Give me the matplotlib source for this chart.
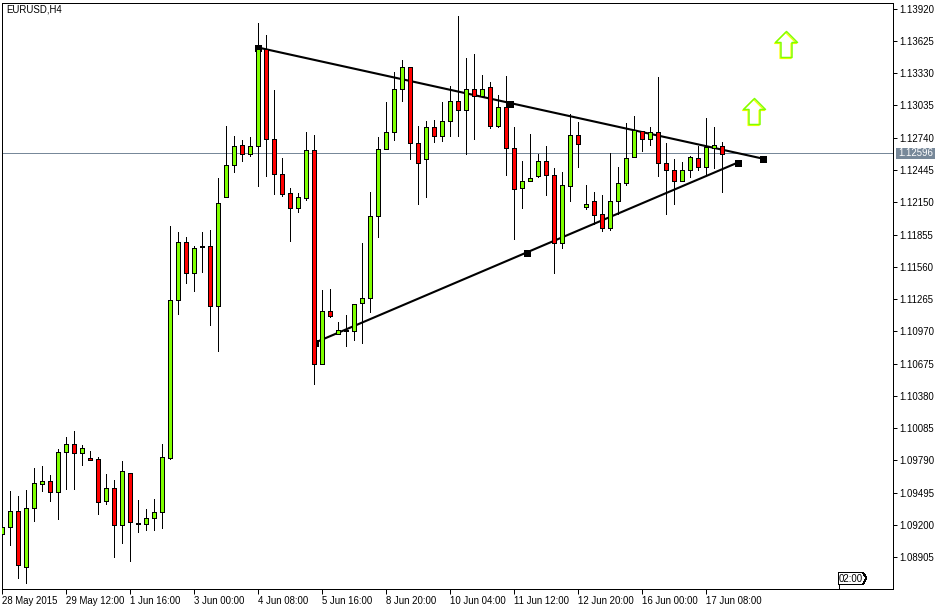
import matplotlib
matplotlib.use("Agg")
import matplotlib.pyplot as plt
from matplotlib.path import Path
from matplotlib.patches import Polygon
from matplotlib.transforms import Affine2D, offset_copy

W = 946
H = 609

opens = [1.09117, 1.09183, 1.09329, 1.08817, 1.09356, 1.09576, 1.09603, 1.09503, 1.09868, 1.09941,
         1.09859, 1.09813, 1.09804, 1.09420, 1.09539, 1.09201, 1.09676, 1.09210, 1.09210, 1.09265,
         1.09320, 1.09813, 1.11258, 1.11788, 1.11504, 1.11751, 1.11751, 1.11203, 1.12199, 1.12491,
         1.12674, 1.12592, 1.12665, 1.13552, 1.12729, 1.12409, 1.12236, 1.12095, 1.12190, 1.12629,
         1.10673, 1.11157, 1.10947, 1.10986, 1.10974, 1.11230, 1.11276, 1.12025, 1.12638, 1.12793,
         1.13186, 1.13387, 1.12692, 1.12546, 1.12839, 1.12756, 1.12894, 1.13076, 1.12994, 1.13186,
         1.13122, 1.13204, 1.12848, 1.13022, 1.12647, 1.12281, 1.12345, 1.12391, 1.12528, 1.12400,
         1.11781, 1.12299, 1.12766, 1.12108, 1.12162, 1.12044, 1.11916, 1.12162, 1.12327, 1.12565,
         1.12805, 1.12729, 1.12793, 1.12510, 1.12446, 1.12345, 1.12446, 1.12555, 1.12473, 1.12647,
         1.12665]
highs = [1.09240, 1.09508, 1.09469, 1.09524, 1.09725, 1.09743, 1.09661, 1.09898, 1.10008, 1.10063,
         1.09932, 1.09877, 1.09823, 1.09670, 1.09615, 1.09789, 1.09676, 1.09432, 1.09350, 1.09441,
         1.09944, 1.11937, 1.11882, 1.11836, 1.11751, 1.11882, 1.11900, 1.12375, 1.12851, 1.12759,
         1.12723, 1.12750, 1.13792, 1.13682, 1.13180, 1.12558, 1.12284, 1.12236, 1.12796, 1.12768,
         1.11352, 1.11361, 1.11059, 1.11123, 1.11221, 1.11781, 1.12247, 1.12750, 1.13070, 1.13344,
         1.13451, 1.13387, 1.12851, 1.12896, 1.12905, 1.13070, 1.13216, 1.13856, 1.13472, 1.13509,
         1.13317, 1.13253, 1.13134, 1.13308, 1.12841, 1.12531, 1.12777, 1.12595, 1.12668, 1.12467,
         1.12430, 1.12960, 1.12887, 1.12309, 1.12247, 1.12220, 1.12604, 1.12476, 1.12878, 1.12942,
         1.12805, 1.12841, 1.13298, 1.12695, 1.12549, 1.12522, 1.12576, 1.12668, 1.12924, 1.12841,
         1.12704]
lows = [1.09085, 1.09015, 1.08713, 1.08667, 1.09234, 1.09508, 1.09417, 1.09252, 1.09533, 1.09533,
        1.09746, 1.09795, 1.09298, 1.09389, 1.08905, 1.09033, 1.08868, 1.09133, 1.09152, 1.09152,
        1.09170, 1.09801, 1.11126, 1.11409, 1.11336, 1.11510, 1.11025, 1.10788, 1.12199, 1.12424,
        1.12524, 1.12570, 1.12296, 1.12387, 1.12223, 1.12208, 1.11793, 1.12058, 1.12172, 1.10486,
        1.10673, 1.11099, 1.10947, 1.10833, 1.10888, 1.10861, 1.11144, 1.11830, 1.12638, 1.12720,
        1.13073, 1.12546, 1.12135, 1.12195, 1.12698, 1.12707, 1.12753, 1.12753, 1.12592, 1.12729,
        1.13122, 1.12830, 1.12835, 1.12396, 1.11811, 1.12095, 1.12345, 1.12382, 1.12214, 1.11501,
        1.11733, 1.12162, 1.12470, 1.12089, 1.11952, 1.11888, 1.11897, 1.12044, 1.12309, 1.12565,
        1.12619, 1.12674, 1.12391, 1.12040, 1.12131, 1.12345, 1.12382, 1.12446, 1.12409, 1.12464,
        1.12241]
closes = [1.09185, 1.09329, 1.08835, 1.09356, 1.09585, 1.09603, 1.09503, 1.09868, 1.09941, 1.09859,
          1.09905, 1.09795, 1.09411, 1.09539, 1.09201, 1.09695, 1.09228, 1.09219, 1.09265, 1.09320,
          1.09823, 1.11258, 1.11788, 1.11504, 1.11733, 1.11742, 1.11203, 1.12144, 1.12491, 1.12665,
          1.12592, 1.12665, 1.13552, 1.12729, 1.12409, 1.12226, 1.12095, 1.12199, 1.12629, 1.10673,
          1.11157, 1.11111, 1.10983, 1.10977, 1.11221, 1.11276, 1.12025, 1.12638, 1.12793, 1.13186,
          1.13387, 1.12692, 1.12510, 1.12839, 1.12756, 1.12894, 1.13076, 1.12994, 1.13186, 1.13122,
          1.13186, 1.12848, 1.13022, 1.12647, 1.12272, 1.12345, 1.12373, 1.12528, 1.12400, 1.11781,
          1.12309, 1.12766, 1.12683, 1.12135, 1.12034, 1.11916, 1.12162, 1.12327, 1.12555, 1.12811,
          1.12729, 1.12793, 1.12510, 1.12446, 1.12345, 1.12446, 1.12565, 1.12473, 1.12656, 1.12674,
          1.12592]

price_ticks = [1.13920, 1.13625, 1.13330, 1.13035, 1.12740, 1.12445, 1.12150, 1.11855, 1.11560,
               1.11265, 1.10970, 1.10675, 1.10380, 1.10085, 1.09790, 1.09495, 1.09200, 1.08905]
time_ticks = [0, 8, 16, 24, 32, 40, 48, 56, 64, 72, 80, 88]
time_labels = ["28 May 2015", "29 May 12:00", "1 Jun 16:00", "3 Jun 00:00", "4 Jun 08:00", "5 Jun 16:00",
               "8 Jun 20:00", "10 Jun 04:00", "11 Jun 12:00", "12 Jun 20:00", "16 Jun 00:00", "17 Jun 08:00"]

last_price = 1.12596
upper_bars = [32, 63.5, 95.1]
upper_prices = [1.13564, 1.13052, 1.12549]
lower_bars = [39.1, 65.6, 91.96]
lower_prices = [1.10867, 1.11690, 1.12512]
arrow_bars = [98, 94]
arrow_prices = [1.13594, 1.12981]

GREEN = "#7fff00"
RED = "#ff0000"
GREY = "#778899"
FONT = "Liberation Sans"
FS = 6.9

PX = 72 / 100  # one pixel in points

plt.rcParams["font.family"] = FONT

fig = plt.figure(figsize=(W / 100, H / 100), dpi=100, facecolor="white")
ax = fig.add_axes([2.4 / W, 20.4 / H, 891 / W, 586 / H])

# 10941 pixels per price unit, tick 1.13920 sits near row 8.5
ax.set_xlim(0.08, 0.08 + 891 / 8)
ax.set_ylim(1.1392 - 580 / 10941, 1.1392 + 6 / 10941)

ax.axhline(last_price, color=GREY, lw=PX, zorder=1, antialiased=False)

for bars, prices in [(upper_bars, upper_prices), (lower_bars, lower_prices)]:
    ax.plot([bars[0], bars[-1]], [prices[0], prices[-1]], color="black", lw=2.1 * PX, zorder=2)
    ax.plot(bars, prices, ls="none", marker="s", ms=7 * PX, mfc="black", mec="black", mew=0, zorder=2)

bars = list(range(len(opens)))
ax.vlines(bars, lows, highs, color="black", lw=PX, zorder=3, antialiased=False)
for i in bars:
    col = GREEN if closes[i] >= opens[i] else RED
    bottom = min(opens[i], closes[i])
    ax.bar(i, abs(closes[i] - opens[i]), bottom=bottom, width=0.5, color=col, edgecolor="black",
           lw=PX, zorder=4, antialiased=False)

# hollow up arrows
arrow = Path([(0, 13), (11, 2), (5.5, 2), (5.5, -13), (-5.5, -13), (-5.5, 2), (-11, 2), (0, 13)], closed=True)
shifted = offset_copy(ax.transData, fig=fig, x=-1, y=-0.5, units="dots")
ax.plot(arrow_bars, arrow_prices, ls="none", marker=arrow, ms=26 * PX, mfc="none", mec="#ffff00", mew=1.2 * PX,
        transform=shifted, zorder=5)
ax.plot(arrow_bars, arrow_prices, ls="none", marker=arrow, ms=26 * PX, mfc="none", mec=GREEN, mew=1.5 * PX, zorder=6)

for s in ax.spines.values():
    s.set_linewidth(PX)
    s.set_color("black")

ax.yaxis.tick_right()
ax.set_yticks(price_ticks)
ax.set_yticklabels(["%.5f" % p for p in price_ticks])
ax.tick_params(axis="y", length=4 * PX, width=PX, pad=1.5, labelsize=FS, color="black")
ax.set_xticks(time_ticks)
ax.set_xticklabels(time_labels, ha="left")
ax.tick_params(axis="x", length=5 * PX, width=PX, pad=1.5, labelsize=FS, color="black")

# screen pixel coordinates for the terminal furniture
screen = Affine2D().scale(1, -1).translate(0, H)
fig.text(6 / W, 1 - 9.5 / H, "EURUSD,H4", fontsize=FS, va="center", ha="left")

fig.text(915.5 / W, 1 - 153.5 / H, "%.5f" % last_price, color="white", fontsize=FS, ha="center", va="center", zorder=10)
fig.patches.append(Polygon([(896, 148), (935, 148), (935, 159), (896, 159)], closed=True, transform=screen,
                           fc=GREY, ec="none", zorder=9))
fig.patches.append(Polygon([(838.5, 572.5), (863, 572.5), (866.5, 578), (863, 584.5), (838.5, 584.5)], closed=True,
                           transform=screen, fc="white", ec="black", lw=PX, zorder=9, antialiased=False))
fig.patches.append(Polygon([(838.5, 584.5), (838.5, 588.5)], closed=False, transform=screen, fc="none", ec="black",
                           lw=PX, zorder=9, antialiased=False))
fig.text(851 / W, 1 - 578.5 / H, "02:00", color="black", fontsize=FS, ha="center", va="center", zorder=10)

fig.savefig("out.png", dpi=100)
